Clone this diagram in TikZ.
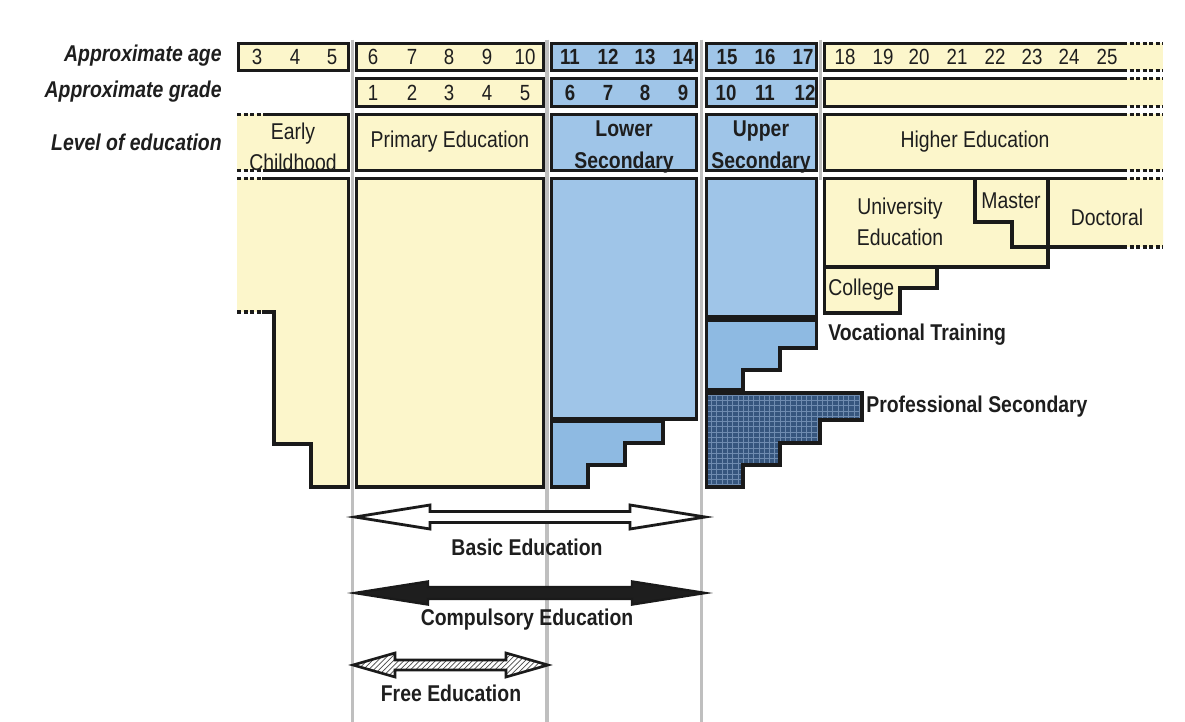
\documentclass[tikz,border=0pt]{standalone}
\usepackage{fontspec}
\setmainfont{Liberation Sans}[FakeStretch=0.85]
\usepackage{tikz}
\usetikzlibrary{positioning,patterns}
\definecolor{cream}{HTML}{FCF6CB}
\definecolor{skyblue}{HTML}{9FC5E8}
\definecolor{stairblue}{HTML}{8EBAE2}
\definecolor{navyblue}{HTML}{36567E}
\definecolor{gridnavy}{HTML}{6F8CB0}
\definecolor{rule}{HTML}{1A1A1A}
\definecolor{ink}{HTML}{1E1E1E}
\definecolor{guidegray}{HTML}{BFBFBF}

\begin{document}
\begin{tikzpicture}[x=0.02cm, y=-0.02cm, line join=miter]
 \tikzstyle{box}=[draw=rule, line width=2pt]
 \tikzstyle{openend}=[draw=rule, line width=2pt, dash pattern=on 2.5pt off 1.2pt]
 \tikzstyle{guide}=[draw=guidegray, line width=2.2pt]
 \tikzstyle{num}=[inner sep=0pt, text=ink, font=\fontsize{12.5}{14}\selectfont]
 \tikzstyle{bnum}=[num, font=\fontsize{12.5}{14}\selectfont\bfseries]
 \tikzstyle{lbl}=[inner sep=0pt, text=ink, align=center, font=\fontsize{13}{18}\selectfont]
 \tikzstyle{blbl}=[lbl, font=\fontsize{13}{18}\selectfont\bfseries]
 \tikzstyle{rowlbl}=[inner sep=0pt, anchor=east, text=ink, font=\fontsize{13}{15}\selectfont\bfseries\itshape]
 \useasboundingbox[fill=white] (0,0) rectangle (1185,722);

 % gray guides between the columns
 \foreach \x in {352.5,547,701.5}
  \draw[guide] (\x,40) -- (\x,722);
 \draw[guide] (820.5,40) -- (820.5,180);

 % row captions
 \node[rowlbl] (agecap)   at (222,56)  {Approximate age};
 \node[rowlbl] (gradecap) at (222,92)  {Approximate grade};
 \node[rowlbl] (levelcap) at (222,142) {Level of education};

 % age and grade rows
 \draw[box, fill=cream]   (238.5,43.5) rectangle (348.5,70.5);
 \draw[box, fill=cream]   (356.5,43.5) rectangle (543.5,70.5);
 \draw[box, fill=skyblue] (551.5,43.5) rectangle (696.5,70.5);
 \draw[box, fill=skyblue] (706.5,43.5) rectangle (816.5,70.5);
 \draw[box, fill=cream]   (356.5,78.5) rectangle (543.5,106.5);
 \draw[box, fill=skyblue] (551.5,78.5) rectangle (696.5,106.5);
 \draw[box, fill=skyblue] (706.5,78.5) rectangle (816.5,106.5);

 % level row
 \fill[cream] (237,114.5) rectangle (348.5,170.5);
 \draw[box] (266,114.5) -| (348.5,170.5) -- (266,170.5);
 \draw[openend] (237,114.5) -- (266,114.5) (237,170.5) -- (266,170.5);
 \draw[box, fill=cream]   (356.5,114.5) rectangle (543.5,170.5);
 \draw[box, fill=skyblue] (551.5,114.5) rectangle (696.5,170.5);
 \draw[box, fill=skyblue] (706.5,114.5) rectangle (816.5,170.5);

 % higher education rows, open to the right
 \foreach \t/\b in {43.5/70.5, 78.5/106.5, 114.5/170.5} {
  \fill[cream] (824.5,\t) rectangle (1163,\b);
  \draw[box] (1123,\t) -- (824.5,\t) -- (824.5,\b) -- (1123,\b);
  \draw[openend] (1123,\t) -- (1163,\t) (1123,\b) -- (1163,\b);
 }

 % ages
 \foreach \n/\x in {3/257,4/295,5/332,6/373,7/412,8/449,9/487,10/525,
                    18/845,19/883,20/919,21/957,22/995,23/1032,24/1069,25/1107}
  \node[num] (age\n) at (\x,57) {\n};
 \foreach \n/\x in {11/570,12/608,13/645,14/683,15/727,16/765,17/803}
  \node[bnum] (age\n) at (\x,57) {\n};
 % grades
 \foreach \n/\x in {1/373,2/412,3/449,4/487,5/525}
  \node[num] (grade\n) at (\x,93) {\n};
 \foreach \n/\x in {6/570,7/608,8/645,9/683,10/726,11/765,12/805}
  \node[bnum] (grade\n) at (\x,93) {\n};

 % levels
 \node[lbl]  (early)   at (293,147) {Early\\Childhood};
 \node[lbl]  (primary) at (450,142) {Primary Education};
 \node[blbl] (lower)   at (624,147) {Lower\\Secondary};
 \node[blbl] (upper)   at (761,147) {Upper\\Secondary};
 \node[lbl]  (higher)  at (975,142) {Higher Education};

 % early childhood body
 \fill[cream] (237,178.5) -| (348.5,487) -| (311,444) -| (274,312) -| (237,178.5) -- cycle;
 \draw[box] (262,178.5) -| (348.5,487) -| (311,444) -| (274,312) -- (262,312);
 \draw[openend] (237,178.5) -- (262,178.5) (237,312) -- (262,312);

 % primary and lower secondary body
 \draw[box, fill=cream]   (356.5,178.5) rectangle (543.5,487);
 \draw[box, fill=skyblue] (551.5,178.5) rectangle (696.5,419);
 \draw[box, fill=stairblue] (551.5,421) -| (663,443) -| (625,465) -| (588,487) -| (551.5,421) -- cycle;

 % upper secondary body
 \draw[box, fill=skyblue] (706.5,178.5) rectangle (816.5,317);
 \draw[box, fill=stairblue] (706.5,320) -| (816.5,348) -| (780,370) -| (743,390) -| (706.5,320) -- cycle;
 \draw[box, preaction={fill=navyblue}, pattern=grid, pattern color=gridnavy]
   (706.5,393) -| (862,420) -| (820,443) -| (780,465) -| (743,487) -| (706.5,393) -- cycle;
 \node[blbl, anchor=west] (vocational)   at (828,335) {Vocational Training};
 \node[blbl, anchor=west] (professional) at (866,407) {Professional Secondary};

 % higher education body
 \fill[cream] (824.5,178.5) -- (1163,178.5) -- (1163,247) -- (1048,247) -- (1048,267) -- (824.5,267) -- cycle;
 \draw[box, fill=cream] (824.5,267) -| (937,288) -| (900,313) -| (824.5,267);
 \draw[box] (1123,178.5) -- (824.5,178.5) -- (824.5,313);
 \draw[box] (1048,178.5) |- (824.5,267);
 \draw[box] (975,178.5) |- (1012,222) |- (1123,247);
 \draw[openend] (1123,178.5) -- (1163,178.5) (1123,247) -- (1163,247);
 \node[lbl] (university) at (900,222) {University\\Education};
 \node[lbl] (master)     at (1011,201) {Master};
 \node[lbl] (doctoral)   at (1107,217) {Doctoral};
 \node[lbl, anchor=west] (college) at (828,290) {College};

 % spans of education
 \coordinate (basicL) at (355,517);
 \coordinate (basicR) at (705,517);
 \coordinate (compL)  at (355,593);
 \coordinate (compR)  at (705,593);
 \coordinate (freeL)  at (353,665);
 \coordinate (freeR)  at (548,665);
 \draw[draw=rule, line width=1.6pt, fill=white]
   (basicL) -- ++(75,-12) -- ++(0,6.5) -- ([shift={(-75,-5.5)}]basicR) -- ++(0,-6.5) -- (basicR)
   -- ++(-75,12) -- ++(0,-6.5) -- ([shift={(75,5.5)}]basicL) -- ++(0,6.5) -- cycle;
 \draw[draw=rule, line width=1.4pt, fill=ink]
   (compL) -- ++(73,-11.5) -- ++(0,5.5) -- ([shift={(-73,-6)}]compR) -- ++(0,-5.5) -- (compR)
   -- ++(-73,11.5) -- ++(0,-5.5) -- ([shift={(73,6)}]compL) -- ++(0,5.5) -- cycle;
 \draw[draw=rule, line width=1.5pt, preaction={fill=white}, pattern=north east lines, pattern color=ink!80]
   (freeL) -- ++(42,-12) -- ++(0,7) -- ([shift={(-42,-5)}]freeR) -- ++(0,-7) -- (freeR)
   -- ++(-42,12) -- ++(0,-7) -- ([shift={(42,5)}]freeL) -- ++(0,7) -- cycle;
 \node[blbl] (basic)      at (527,547) {Basic Education};
 \node[blbl] (compulsory) at (527,620) {Compulsory Education};
 \node[blbl] (free)       at (451,693) {Free Education};
\end{tikzpicture}
\end{document}
